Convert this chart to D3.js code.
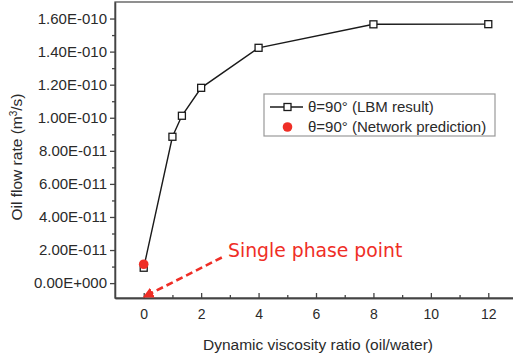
<!DOCTYPE html>
<html>
<head>
<meta charset="utf-8">
<script src="https://cdn.jsdelivr.net/npm/d3@7.9.0/dist/d3.min.js"></script>
<style>
  body { margin: 0; background: #fff; }
  svg { display: block; font-family: 'Liberation Sans', Arial, sans-serif; }
</style>
</head>
<body>
<svg id="chart"></svg>
<script>
// viscosity ratio vs oil flow rate (LBM), plus the network prediction at 0
const viscosityRatio = [0, 1, 1.33, 2, 4, 8, 12];
const lbmFlowRate = [0.93e-11, 8.85e-11, 10.12e-11, 11.81e-11, 14.23e-11, 15.65e-11, 15.66e-11];
const networkRatio = [0];
const networkFlowRate = [1.14e-11];

const xTicks = [0, 2, 4, 6, 8, 10, 12];
const xMinorTicks = [1, 3, 5, 7, 9, 11];
const yTicks = [0, 2e-11, 4e-11, 6e-11, 8e-11, 10e-11, 12e-11, 14e-11, 16e-11];
const yTickLabels = ['0.00E+000', '2.00E-011', '4.00E-011', '6.00E-011', '8.00E-011',
  '1.00E-010', '1.20E-010', '1.40E-010', '1.60E-010'];
const yMinorTicks = [1e-11, 3e-11, 5e-11, 7e-11, 9e-11, 11e-11, 13e-11, 15e-11];

const legendLabels = ['\u03b8=90\u00b0 (LBM result)', '\u03b8=90\u00b0 (Network prediction)'];
const annotationText = 'Single phase point';
const annotationFrom = [2.72, 1.55e-11];

const width = 513;
const height = 355;
const margin = { top: 2, left: 115, bottom: 57 };
const red = '#ef2e26';
const ink = '#2a2a2a';

const svg = d3.select('#chart').attr('width', width).attr('height', height);

const x = d3.scaleLinear().domain([-1, 13]).range([margin.left, 517]);
const y = d3.scaleLinear().domain([-0.9e-11, 1.7e-10]).range([height - margin.bottom, margin.top]);

// frame (right edge falls outside the picture)
svg.append('rect')
  .attr('x', x(-1)).attr('y', y(1.7e-10))
  .attr('width', x(13) - x(-1)).attr('height', y(-0.9e-11) - y(1.7e-10))
  .attr('fill', 'none').attr('stroke', '#555').attr('stroke-width', 1.3);

// axes
const yAxis = d3.axisLeft(y).tickValues(yTicks)
  .tickFormat((d, i) => yTickLabels[i]).tickSize(5).tickSizeOuter(0).tickPadding(3);
const yMinor = d3.axisLeft(y).tickValues(yMinorTicks).tickFormat('').tickSize(3).tickSizeOuter(0);
const xAxis = d3.axisBottom(x).tickValues(xTicks).tickSize(-5).tickSizeOuter(0).tickPadding(11);
const xMinor = d3.axisBottom(x).tickValues(xMinorTicks).tickFormat('').tickSize(-3).tickSizeOuter(0);

function styleAxis(g) {
  g.select('.domain').attr('stroke', '#444').attr('stroke-width', 1.3);
  g.selectAll('.tick line').attr('stroke', '#444').attr('stroke-width', 1.3);
  g.selectAll('.tick text').attr('fill', ink);
}

svg.append('g').attr('transform', `translate(${margin.left},0)`).call(yMinor).call(styleAxis);
svg.append('g').attr('transform', `translate(${margin.left},0)`).call(yAxis).call(styleAxis)
  .selectAll('.tick text').style('font-size', '15px');
svg.append('g').attr('transform', `translate(0,${height - margin.bottom})`).call(xMinor).call(styleAxis);
svg.append('g').attr('transform', `translate(0,${height - margin.bottom})`).call(xAxis).call(styleAxis)
  .selectAll('.tick text').style('font-size', '14px');

// axis titles
svg.append('text')
  .attr('x', 318).attr('y', 350)
  .attr('text-anchor', 'middle').attr('fill', ink).style('font-size', '15.5px')
  .text('Dynamic viscosity ratio (oil/water)');

const yTitle = svg.append('text')
  .attr('transform', 'translate(22,157) rotate(-90)')
  .attr('text-anchor', 'middle').attr('fill', ink).style('font-size', '15.5px');
yTitle.append('tspan').text('Oil flow rate (m');
yTitle.append('tspan').attr('dy', -5).style('font-size', '10px').text('3');
yTitle.append('tspan').attr('dy', 5).text('/s)');

// LBM line + squares
const line = d3.line().x((d, i) => x(viscosityRatio[i])).y(d => y(d));
svg.append('path').datum(lbmFlowRate)
  .attr('d', line).attr('fill', 'none').attr('stroke', '#1a1a1a').attr('stroke-width', 1.4);

const sq = 7;
svg.selectAll('rect.lbm').data(lbmFlowRate).join('rect')
  .attr('class', 'lbm')
  .attr('x', (d, i) => x(viscosityRatio[i]) - sq / 2)
  .attr('y', d => y(d) - sq / 2)
  .attr('width', sq).attr('height', sq)
  .attr('fill', '#fff').attr('stroke', '#1a1a1a').attr('stroke-width', 1.3);

// network prediction
svg.selectAll('circle.net').data(networkFlowRate).join('circle')
  .attr('class', 'net')
  .attr('cx', (d, i) => x(networkRatio[i])).attr('cy', d => y(d))
  .attr('r', 4.8).attr('fill', red);

// annotation arrow
svg.append('defs').append('marker')
  .attr('id', 'head').attr('viewBox', '0 0 10 10')
  .attr('refX', 9).attr('refY', 5)
  .attr('markerWidth', 4.2).attr('markerHeight', 4.2)
  .attr('markerUnits', 'strokeWidth').attr('orient', 'auto')
  .append('path').attr('d', 'M0,0 L10,5 L0,10 Z').attr('fill', red);

svg.append('line')
  .attr('x1', x(annotationFrom[0])).attr('y1', y(annotationFrom[1]))
  .attr('x2', x(0)).attr('y2', y(-0.9e-11) - 1)
  .attr('stroke', red).attr('stroke-width', 2.6)
  .attr('stroke-dasharray', '7,4')
  .attr('marker-end', 'url(#head)');

svg.append('text')
  .attr('x', 228).attr('y', 257)
  .attr('fill', red).style('font-family', "'DejaVu Sans', sans-serif").style('font-size', '18.8px')
  .text(annotationText);

// legend
const legend = svg.append('g').attr('transform', 'translate(264,94)');
legend.append('rect')
  .attr('width', 231).attr('height', 42)
  .attr('fill', '#fff').attr('stroke', '#999').attr('stroke-width', 1.2);
legend.append('line')
  .attr('x1', 6).attr('x2', 39).attr('y1', 13).attr('y2', 13)
  .attr('stroke', '#1a1a1a').attr('stroke-width', 1.4);
legend.append('rect')
  .attr('x', 23.5 - sq / 2).attr('y', 13 - sq / 2).attr('width', sq).attr('height', sq)
  .attr('fill', '#fff').attr('stroke', '#1a1a1a').attr('stroke-width', 1.3);
legend.append('circle').attr('cx', 23.5).attr('cy', 33).attr('r', 4.8).attr('fill', red);
legend.selectAll('text.item').data(legendLabels).join('text')
  .attr('class', 'item')
  .attr('x', 44).attr('y', (d, i) => 18 + i * 20)
  .attr('fill', ink).style('font-size', '15px')
  .text(d => d);
</script>
</body>
</html>
